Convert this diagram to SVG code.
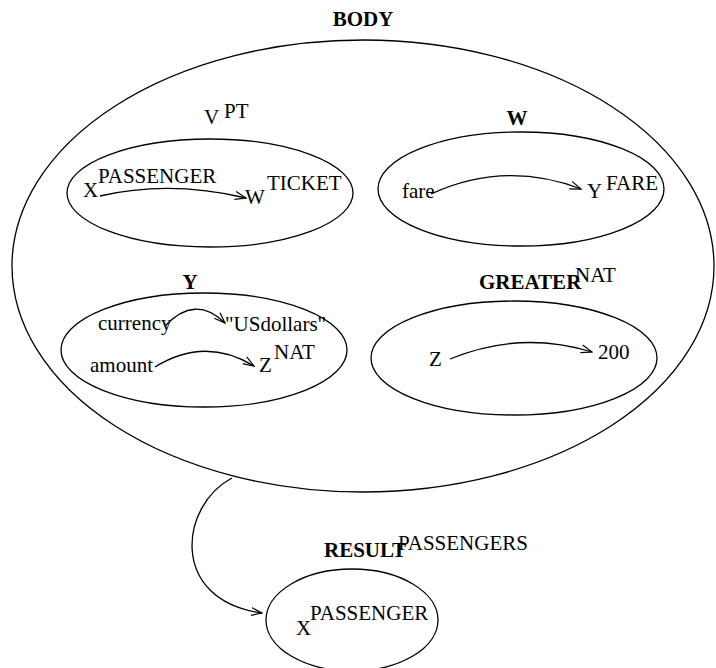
<svg xmlns="http://www.w3.org/2000/svg" width="716" height="668" viewBox="0 0 716 668">
<defs>
<style>
.e{fill:none;stroke:#000;stroke-width:1.3}
.c{fill:none;stroke:#000;stroke-width:1.3}
.t text{font-family:'Liberation Serif','Tinos','DejaVu Serif','Times New Roman',serif;font-size:21px;fill:#000}
.t .b{font-weight:bold}
</style>
<marker id="ah" viewBox="0 0 12 10" refX="11" refY="5" markerWidth="12" markerHeight="10" markerUnits="userSpaceOnUse" orient="auto">
<path d="M0,1 L11,5 L0,9" fill="none" stroke="#000" stroke-width="1.2"/>
</marker>
</defs>
<rect width="716" height="668" fill="#fff"/>
<g class="t" font-family="Liberation Serif, serif">
<g id="body">
<ellipse class="e" cx="363" cy="266" rx="351" ry="226"/>
<text class="b" x="363" y="26" text-anchor="middle">BODY</text>
</g>
<g id="vpt">
<ellipse class="e" cx="210" cy="193" rx="143" ry="54"/>
<text x="204" y="124">V</text>
<text x="224" y="118" font-size="19">PT</text>
<text x="83" y="197">X</text>
<text x="98" y="183">PASSENGER</text>
<text x="245" y="204">W</text>
<text x="267" y="190">TICKET</text>
</g>
<g id="w">
<ellipse class="e" cx="521" cy="189" rx="143" ry="57"/>
<text class="b" x="517" y="125" text-anchor="middle">W</text>
<text x="402" y="198">fare</text>
<text x="587" y="198">Y</text>
<text x="606" y="190">FARE</text>
</g>
<g id="y">
<ellipse class="e" cx="204" cy="350" rx="143" ry="57"/>
<text class="b" x="190" y="289" text-anchor="middle">Y</text>
<text x="98" y="330">currency</text>
<text x="225" y="331" fill="#222">"USdollars"</text>
<text x="90" y="372">amount</text>
<text x="259" y="372">Z</text>
<text x="274" y="359">NAT</text>
</g>
<g id="greater">
<ellipse class="e" cx="514" cy="358" rx="143" ry="57"/>
<text class="b" x="479" y="289">GREATER</text>
<text x="575" y="282">NAT</text>
<text x="429" y="366">Z</text>
<text x="598" y="359">200</text>
</g>
<g id="result">
<ellipse class="e" cx="352" cy="620" rx="86" ry="51"/>
<text class="b" x="324" y="557">RESULT</text>
<text x="398" y="550">PASSENGERS</text>
<text x="296" y="635">X</text>
<text x="310" y="620">PASSENGER</text>
</g>
</g>
<g id="connectors">
<path class="c" d="M100,196 Q170,180 246,198" marker-end="url(#ah)"/>
<path class="c" d="M431,194 Q505,160 581,189" marker-end="url(#ah)"/>
<path class="c" d="M165,326 Q195,294 225,323" marker-end="url(#ah)"/>
<path class="c" d="M155,367 Q205,336 254,366" marker-end="url(#ah)"/>
<path class="c" d="M450,359 Q520,330 592,352" marker-end="url(#ah)"/>
<path class="c" d="M232,478 C180,505 168,600 262,613" marker-end="url(#ah)"/>
</g>
</svg>
